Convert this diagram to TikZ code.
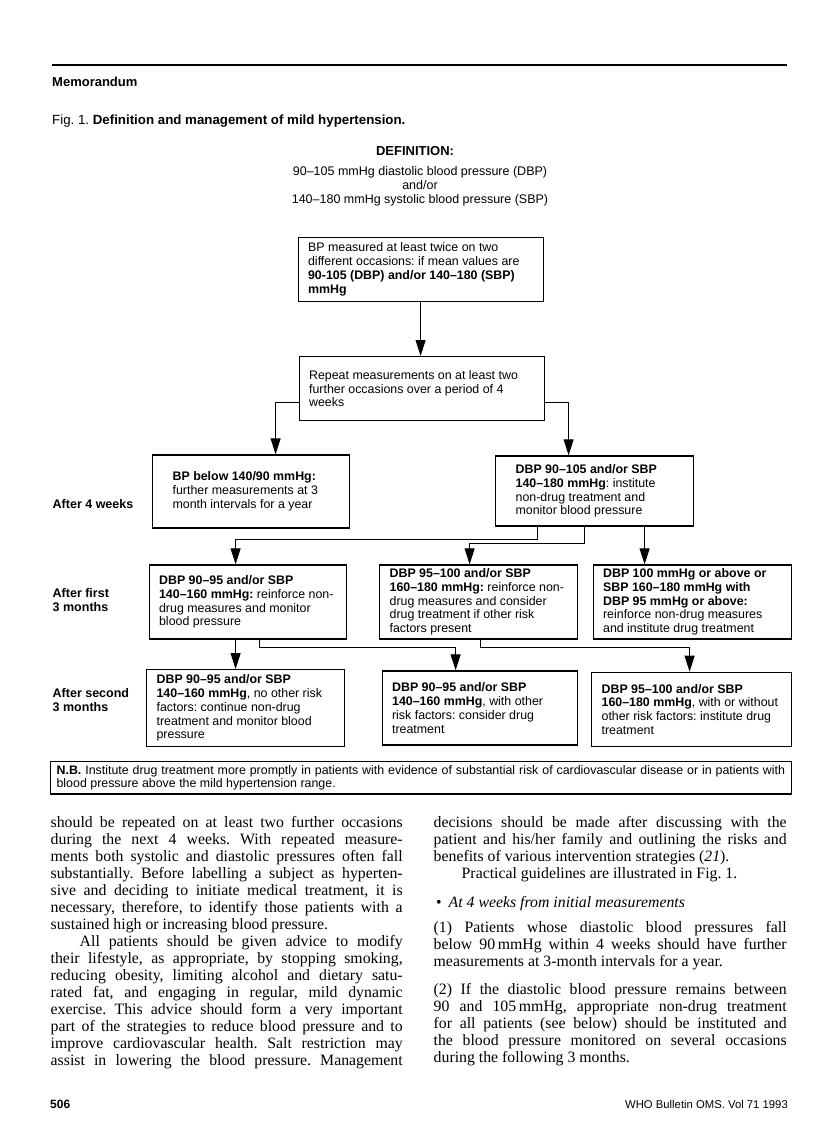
\documentclass[tikz,border=0pt]{standalone}
\usepackage{fontspec}
\setmainfont{Liberation Serif}
\newfontfamily\figfont{Liberation Sans}
\usetikzlibrary{arrows.meta, calc}
\frenchspacing
\newcommand{\jl}[2][352pt]{\makebox[#1][s]{\spaceskip=0pt\xspaceskip=0pt\relax#2}}

\begin{document}
\begin{tikzpicture}[x=1pt, y=-1pt,
    fig/.style={inner sep=0pt, font=\figfont\fontsize{12.5}{14}\selectfont},
    box/.style 2 args={draw, line width=1.2pt, anchor=north west, align=left,
        text width=#1, minimum height=#2, inner xsep=10pt, inner ysep=0pt,
        font=\figfont\fontsize{12.4}{13.8}\selectfont,
        execute at begin node={\spaceskip=0pt\xspaceskip=0pt\relax}},
    arr/.style={-{Triangle[length=16pt, width=10pt]}, line width=1pt},
    side/.style={anchor=west, align=left, inner sep=0pt,
        font=\figfont\bfseries\fontsize{12.5}{14.6}\selectfont},
    body/.style={anchor=base west, align=justify, text width=352pt, inner sep=0pt,
        font=\fontsize{15.8}{17}\selectfont},
  ]
  \fill[white] (0,0) rectangle (816,1134);
  \useasboundingbox (0,0) rectangle (816,1134);
  \draw[line width=1.1pt] (52,65) -- (787,65);
  \node[fig, anchor=west, font=\figfont\bfseries\fontsize{13}{15}\selectfont] (memo) at (52,82) {Memorandum};
  \node[fig, anchor=west, font=\figfont\fontsize{13.3}{15}\selectfont] (caption) at (52,121) {Fig. 1. \textbf{Definition and management of mild hypertension.}};
  \node[fig, font=\figfont\bfseries\fontsize{13}{14}\selectfont] (defhead) at (415,151) {DEFINITION:};
  \node[fig, align=center] (defn) at (420,186) {90–105 mmHg diastolic blood pressure (DBP)\\and/or\\140–180 mmHg systolic blood pressure (SBP)};
  \node[box={225pt}{64pt}] (measure) at (297.5,236.7) {BP measured at least twice on two\\different occasions: if mean values are\\\textbf{90-105 (DBP) and/or 140–180 (SBP)}\\\textbf{mmHg}};
  \node[box={225.5pt}{64pt}] (repeat) at (298.5,356) {Repeat measurements on at least two\\further occasions over a period of 4\\weeks};
  \node[box={157pt}{73pt}, inner xsep=20pt] (below) at (152,454.3) {\textbf{BP below 140/90 mmHg:}\\further measurements at 3\\month intervals for a year};
  \node[box={158pt}{70pt}, inner xsep=20pt] (mild) at (495,455.3) {\textbf{DBP 90–105 and/or SBP}\\\textbf{140–180 mmHg}: institute\\non-drug treatment and\\monitor blood pressure};
  \node[box={177.5pt}{74pt}] (firstlow) at (148.5,564.3) {\textbf{DBP 90–95 and/or SBP}\\\textbf{140–160 mmHg:} reinforce non-\\drug measures and monitor\\blood pressure};
  \node[box={178pt}{74pt}] (firstmid) at (379,564.3) {\textbf{DBP 95–100 and/or SBP}\\\textbf{160–180 mmHg:} reinforce non-\\drug measures and consider\\drug treatment if other risk\\factors present};
  \node[box={178pt}{74pt}] (firsthigh) at (592.5,564.3) {\textbf{DBP 100 mmHg or above or}\\\textbf{SBP 160–180 mmHg with}\\\textbf{DBP 95 mmHg or above:}\\reinforce non-drug measures\\and institute drug treatment};
  \node[box={178pt}{77pt}] (secondlow) at (146,669) {\textbf{DBP 90–95 and/or SBP}\\\textbf{140–160 mmHg}, no other risk\\factors: continue non-drug\\treatment and monitor blood\\pressure};
  \node[box={175.5pt}{74pt}] (secondmid) at (381.5,670.3) {\textbf{DBP 90–95 and/or SBP}\\\textbf{140–160 mmHg}, with other\\risk factors: consider drug\\treatment};
  \node[box={179.5pt}{74pt}] (secondhigh) at (591,671.7) {\textbf{DBP 95–100 and/or SBP}\\\textbf{160–180 mmHg}, with or without\\other risk factors: institute drug\\treatment};
  \node[box={728.5pt}{32.3pt}, inner xsep=6pt] (nb) at (50,761) {\jl[728.5pt]{\textbf{N.B.} Institute drug treatment more promptly in patients with evidence of substantial risk of cardiovascular disease or in patients with}\\blood pressure above the mild hypertension range.};
  \node[side] (wk4) at (52.5,504) {After 4 weeks};
  \node[side] (mo3) at (52.5,600) {After first\\3 months};
  \node[side] (mo6) at (52.5,700) {After second\\3 months};
  \draw[arr] (measure.south) -- (measure.south |- repeat.north);
  \draw[arr] ([yshift=19pt]repeat.south west) -| ([xshift=24.5pt]below.north);
  \draw[arr] ([yshift=19pt]repeat.south east) -| ([xshift=-26pt]mild.north);
  \draw[arr] ([xshift=-57.5pt]mild.south) -- ++(0,13.3) -| ([xshift=-12.25pt]firstlow.north);
  \draw[arr] ([xshift=-10pt]mild.south) -- ++(0,16.7) -| ([xshift=-9pt]firstmid.north);
  \draw[arr] ([xshift=50pt]mild.south) -- ([xshift=50pt]mild.south |- firsthigh.north);
  \draw[arr] ([xshift=-12.25pt]firstlow.south) -- ([xshift=-12.25pt]firstlow.south |- secondlow.north);
  \draw[arr] ([xshift=11.75pt]firstlow.south) -- ++(0,7.7) -| ([xshift=-24.25pt]secondmid.north);
  \draw[arr] ([xshift=2pt]firstmid.south) -- ++(0,8.4) -| ([xshift=-1.75pt]secondhigh.north);
  \node[body] (colL) at (50.5,827) {\jl{should be repeated on at least two further occasions}\\
    \jl{during the next 4 weeks. With repeated measure-}\\
    \jl{ments both systolic and diastolic pressures often fall}\\
    \jl{substantially. Before labelling a subject as hyperten-}\\
    \jl{sive and deciding to initiate medical treatment, it is}\\
    \jl{necessary, therefore, to identify those patients with a}\\
    sustained high or increasing blood pressure.\\
    \jl{\hspace*{29pt}All patients should be given advice to modify}\\
    \jl{their lifestyle, as appropriate, by stopping smoking,}\\
    \jl{reducing obesity, limiting alcohol and dietary satu-}\\
    \jl{rated fat, and engaging in regular, mild dynamic}\\
    \jl{exercise. This advice should form a very important}\\
    \jl{part of the strategies to reduce blood pressure and to}\\
    \jl{improve cardiovascular health. Salt restriction may}\\
    \jl{assist in lowering the blood pressure. Management}};
  \node[body] (colR) at (433.5,827) {\jl[353pt]{decisions should be made after discussing with the}\\
    \jl[353pt]{patient and his/her family and outlining the risks and}\\
    benefits of various intervention strategies (\textit{21}).\\
    \hspace*{28pt}Practical guidelines are illustrated in Fig. 1.};
  \node[body] (bullet) at (436,907) {\textbullet\hspace{7pt}\textit{At 4 weeks from initial measurements}};
  \node[body] (step1) at (433.5,932) {\jl[353pt]{(1) Patients whose diastolic blood pressures fall}\\
    \jl[353pt]{below 90\,mmHg within 4 weeks should have further}\\
    measurements at 3-month intervals for a year.};
  \node[body] (step2) at (433.5,994) {\jl[353pt]{(2) If the diastolic blood pressure remains between}\\
    \jl[353pt]{90 and 105\,mmHg, appropriate non-drug treatment}\\
    \jl[353pt]{for all patients (see below) should be instituted and}\\
    \jl[353pt]{the blood pressure monitored on several occasions}\\
    during the following 3 months.};
  \node[fig, anchor=west, font=\figfont\bfseries\fontsize{12}{14}\selectfont] (pageno) at (50,1104) {506};
  \node[fig, anchor=east, font=\figfont\fontsize{11.3}{14}\selectfont] (journal) at (788,1104) {WHO Bulletin OMS. Vol 71 1993};
\end{tikzpicture}
\end{document}
